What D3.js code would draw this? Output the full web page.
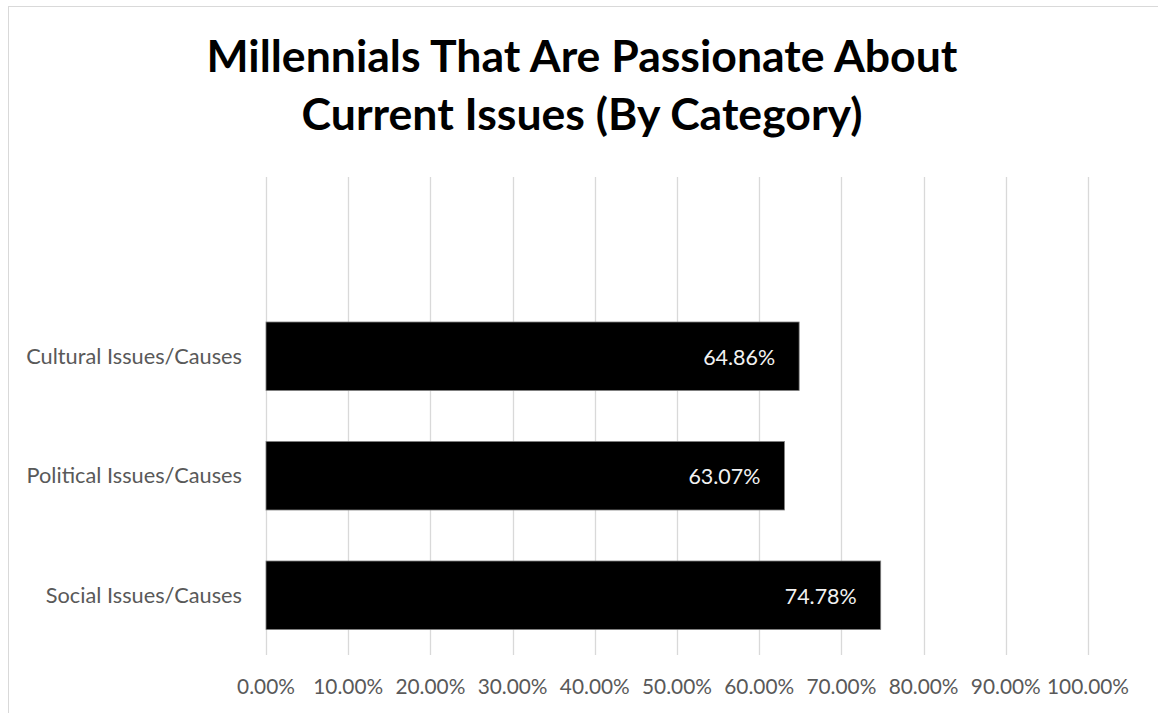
<!DOCTYPE html>
<html>
<head>
<meta charset="utf-8">
<script src="https://cdn.jsdelivr.net/npm/d3@7"></script>
<style>
  html, body { margin: 0; padding: 0; background: #fff; }
  svg { display: block; }
  text { font-family: "Lato", "Open Sans", sans-serif; }
</style>
</head>
<body>
<svg id="chart" width="1158" height="713"></svg>
<script>
// ---- data ----
const titleLines = ["Millennials That Are Passionate About", "Current Issues (By Category)"];
const categories = ["", "Cultural Issues/Causes", "Political Issues/Causes", "Social Issues/Causes"];
const barCategories = ["Cultural Issues/Causes", "Political Issues/Causes", "Social Issues/Causes"];
const values = [0.6486, 0.6307, 0.7478];
const valueLabels = ["64.86%", "63.07%", "74.78%"];
const tickValues = [0, 0.1, 0.2, 0.3, 0.4, 0.5, 0.6, 0.7, 0.8, 0.9, 1.0];
const tickLabels = ["0.00%", "10.00%", "20.00%", "30.00%", "40.00%", "50.00%", "60.00%", "70.00%", "80.00%", "90.00%", "100.00%"];

const svg = d3.select("#chart");

// chart border
svg.append("rect")
  .attr("x", 8.5).attr("y", 6.5)
  .attr("width", 1200).attr("height", 800)
  .attr("fill", "#fff").attr("stroke", "#d9d9d9").attr("stroke-width", 1);

const x = d3.scaleLinear().domain([0, 1]).range([266, 1088]);
const y = d3.scaleBand().domain(categories).range([177, 655]).paddingInner(0.427).paddingOuter(0.2135);

// fit helper: scale font size so a text matches a target width
function fitSize(sel, base, target) {
  const w = sel.node().getComputedTextLength();
  return base * target / w;
}

// gridlines
svg.append("g").selectAll("line").data(tickValues).join("line")
  .attr("x1", d => Math.round(x(d)) + 0.5).attr("x2", d => Math.round(x(d)) + 0.5)
  .attr("y1", 177).attr("y2", 655)
  .attr("stroke", "#d9d9d9").attr("stroke-width", 1.3);

// bars
const bars = barCategories.map((c, i) => ({ c, v: values[i], label: valueLabels[i] }));
svg.append("g").selectAll("rect").data(bars).join("rect")
  .attr("x", x(0)).attr("y", d => y(d.c) + y.bandwidth() / 2 - 34.25)
  .attr("width", d => x(d.v) - x(0)).attr("height", 68.5)
  .attr("fill", "#000").attr("stroke", "#7f7f7f").attr("stroke-width", 0.8);

// x tick labels
const tickG = svg.append("g");
const tickTexts = tickG.selectAll("text").data(tickValues).join("text")
  .attr("x", d => x(d)).attr("y", 694)
  .attr("text-anchor", "middle").attr("fill", "#595959")
  .attr("font-size", 20)
  .text((d, i) => tickLabels[i]);
const tickSize = fitSize(tickTexts.filter((d, i) => i === 10), 20, 82);
tickTexts.attr("font-size", tickSize);

// category labels
const catTexts = svg.append("g").selectAll("text").data(barCategories).join("text")
  .attr("x", 242).attr("y", d => y(d) + y.bandwidth() / 2 + 7.5)
  .attr("text-anchor", "end").attr("fill", "#595959")
  .attr("font-size", 20)
  .text(d => d);
const catSize = fitSize(catTexts.filter((d, i) => i === 0), 20, 216);
catTexts.attr("font-size", catSize);

// value labels
const valTexts = svg.append("g").selectAll("text").data(bars).join("text")
  .attr("x", d => x(d.v) - 24).attr("y", d => y(d.c) + y.bandwidth() / 2 + 8.5)
  .attr("text-anchor", "end").attr("fill", "#f2f2f2")
  .attr("font-size", 20)
  .text(d => d.label);
const valSize = fitSize(valTexts.filter((d, i) => i === 0), 20, 72);
valTexts.attr("font-size", valSize);

// title
const titleBaselines = [72, 130];
const titleWidths = [751, 552];
const titleTexts = svg.append("g").selectAll("text").data(titleLines).join("text")
  .attr("x", 582).attr("y", (d, i) => titleBaselines[i])
  .attr("text-anchor", "middle").attr("fill", "#000")
  .attr("font-weight", "bold").attr("font-size", 40)
  .text(d => d);
const tSize = fitSize(titleTexts.filter((d, i) => i === 0), 40, titleWidths[0]);
titleTexts.attr("font-size", tSize);
</script>
</body>
</html>
